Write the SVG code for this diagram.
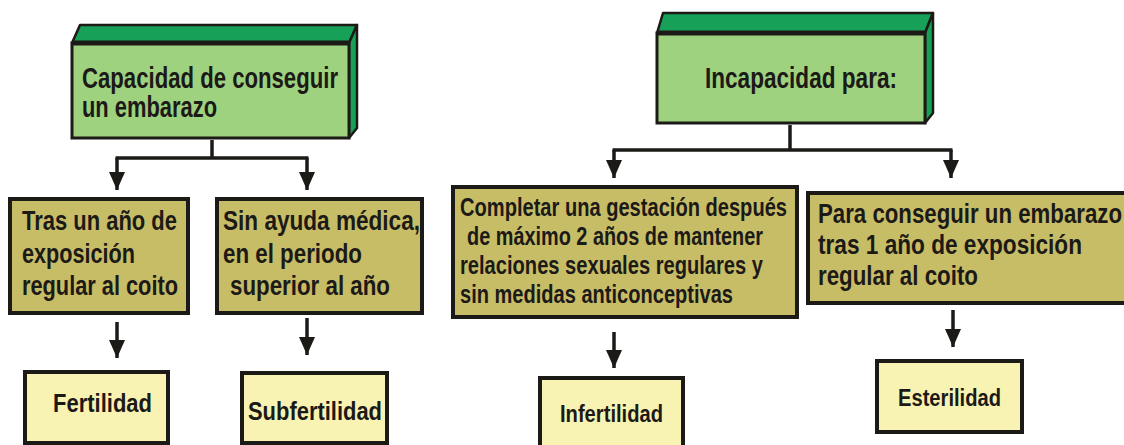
<svg xmlns="http://www.w3.org/2000/svg" width="1124" height="445" viewBox="0 0 1124 445">
<defs>
<style>
.t{font-family:"Liberation Sans",Arial,sans-serif;font-weight:bold;fill:#1c1a17}
.front{fill:#9fd27f;stroke:#1c1a17;stroke-width:3}
.side{fill:#17a058;stroke:#1c1a17;stroke-width:2.5;stroke-linejoin:round}
.mid{fill:#c8bd67;stroke:#1c1a17;stroke-width:4}
.bot{fill:#f8f3b2;stroke:#1c1a17;stroke-width:4}
.ln{stroke:#1c1a17;stroke-width:3.5;fill:none}
</style>
<marker id="ah" markerUnits="userSpaceOnUse" markerWidth="18" markerHeight="16" refX="18" refY="8" orient="auto" viewBox="0 0 18 16">
<path d="M0,0 L18,8 L0,16 Z" fill="#1c1a17"/>
</marker>
</defs>
<rect width="1124" height="445" fill="#ffffff"/>

<g id="node-capacidad">
<polygon class="side" points="72,43 80,25 357,25 349,43"/>
<polygon class="side" points="349,43 357,25 357,128 349,138"/>
<rect class="front" x="72" y="43" width="277" height="95"/>
<line x1="72" y1="43" x2="349" y2="43" stroke="#1c1a17" stroke-width="5"/>
<text class="t" font-size="29" x="82" y="88" textLength="256" lengthAdjust="spacingAndGlyphs">Capacidad de conseguir</text>
<text class="t" font-size="29" x="82" y="117" textLength="135" lengthAdjust="spacingAndGlyphs">un embarazo</text>
</g>

<g id="node-incapacidad">
<polygon class="side" points="657,33 663,13 933,13 925,33"/>
<polygon class="side" points="925,33 933,13 933,113 925,123"/>
<rect class="front" x="657" y="33" width="268" height="90"/>
<line x1="657" y1="33" x2="925" y2="33" stroke="#1c1a17" stroke-width="5"/>
<text class="t" font-size="29" x="705" y="88" textLength="192" lengthAdjust="spacingAndGlyphs">Incapacidad para:</text>
</g>

<g id="node-tras">
<rect class="mid" x="10" y="199" width="178" height="114"/>
<text class="t" font-size="28" x="22" y="230" textLength="155" lengthAdjust="spacingAndGlyphs">Tras un año de</text>
<text class="t" font-size="28" x="22" y="263" textLength="113" lengthAdjust="spacingAndGlyphs">exposición</text>
<text class="t" font-size="28" x="22" y="295" textLength="156" lengthAdjust="spacingAndGlyphs">regular al coito</text>
</g>

<g id="node-sin">
<rect class="mid" x="217" y="199" width="205" height="114"/>
<text class="t" font-size="28" x="223" y="230" textLength="197" lengthAdjust="spacingAndGlyphs">Sin ayuda médica,</text>
<text class="t" font-size="28" x="223" y="263" textLength="139" lengthAdjust="spacingAndGlyphs">en el periodo</text>
<text class="t" font-size="28" x="230" y="295" textLength="160" lengthAdjust="spacingAndGlyphs">superior al año</text>
</g>

<g id="node-completar">
<rect class="mid" x="453" y="187" width="344" height="130"/>
<text class="t" font-size="25" x="460" y="216" textLength="327" lengthAdjust="spacingAndGlyphs">Completar una gestación después</text>
<text class="t" font-size="25" x="467" y="245" textLength="296" lengthAdjust="spacingAndGlyphs">de máximo 2 años de mantener</text>
<text class="t" font-size="25" x="460" y="274" textLength="303" lengthAdjust="spacingAndGlyphs">relaciones sexuales regulares y</text>
<text class="t" font-size="25" x="460" y="303" textLength="273" lengthAdjust="spacingAndGlyphs">sin medidas anticonceptivas</text>
</g>

<g id="node-para">
<rect class="mid" x="808" y="193" width="330" height="110"/>
<text class="t" font-size="27" x="818" y="223" textLength="304" lengthAdjust="spacingAndGlyphs">Para conseguir un embarazo</text>
<text class="t" font-size="27" x="818" y="254" textLength="264" lengthAdjust="spacingAndGlyphs">tras 1 año de exposición</text>
<text class="t" font-size="27" x="818" y="285" textLength="160" lengthAdjust="spacingAndGlyphs">regular al coito</text>
</g>

<g id="node-fertilidad">
<rect class="bot" x="25" y="372" width="143" height="71"/>
<text class="t" font-size="25" x="53" y="412" textLength="99" lengthAdjust="spacingAndGlyphs">Fertilidad</text>
</g>

<g id="node-subfertilidad">
<rect class="bot" x="242" y="373" width="145" height="70"/>
<text class="t" font-size="25" x="248" y="420" textLength="134" lengthAdjust="spacingAndGlyphs">Subfertilidad</text>
</g>

<g id="node-infertilidad">
<rect class="bot" x="540" y="378" width="143" height="70"/>
<text class="t" font-size="23" x="560" y="422" textLength="103" lengthAdjust="spacingAndGlyphs">Infertilidad</text>
</g>

<g id="node-esterilidad">
<rect class="bot" x="877" y="361" width="145" height="71"/>
<text class="t" font-size="23" x="898" y="406" textLength="103" lengthAdjust="spacingAndGlyphs">Esterilidad</text>
</g>

<g id="connectors">
<line class="ln" x1="212" y1="140" x2="212" y2="158"/>
<line class="ln" x1="115.5" y1="158" x2="308.5" y2="158"/>
<line class="ln" x1="117" y1="158" x2="117" y2="190" marker-end="url(#ah)"/>
<line class="ln" x1="307" y1="158" x2="307" y2="190" marker-end="url(#ah)"/>
<line class="ln" x1="790" y1="125" x2="790" y2="150"/>
<line class="ln" x1="612.5" y1="150" x2="952.5" y2="150"/>
<line class="ln" x1="614" y1="150" x2="614" y2="178" marker-end="url(#ah)"/>
<line class="ln" x1="951" y1="150" x2="951" y2="178" marker-end="url(#ah)"/>
<line class="ln" x1="117" y1="322" x2="117" y2="358" marker-end="url(#ah)"/>
<line class="ln" x1="307" y1="318" x2="307" y2="355" marker-end="url(#ah)"/>
<line class="ln" x1="614" y1="332" x2="614" y2="368" marker-end="url(#ah)"/>
<line class="ln" x1="953" y1="310" x2="953" y2="347" marker-end="url(#ah)"/>
</g>
</svg>
